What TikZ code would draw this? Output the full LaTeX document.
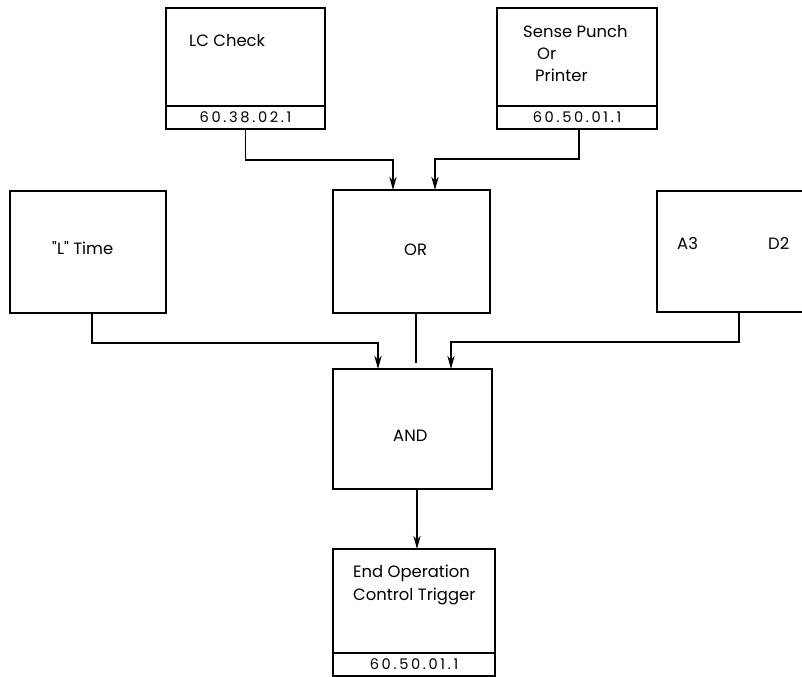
\documentclass[tikz,border=0pt]{standalone}
\usepackage{fontspec}
\setmainfont{Poppins}[Ligatures=TeXOff]
\newfontfamily\numfont[LetterSpace=18]{Poppins}
\usetikzlibrary{positioning,arrows.meta}

\begin{document}
\begin{tikzpicture}[
  x=0.03cm, y=-0.03cm,
  box/.style={draw, line width=1.5pt, inner sep=0pt, outer sep=0pt},
  foot/.style={box, minimum height=23*0.03cm, font=\numfont\fontsize{12.5}{14}\selectfont},
  txt/.style={inner sep=0pt, anchor=base west, font=\fontsize{14}{16}\selectfont},
  arr/.style={-{Stealth[length=4mm, width=2.2mm]}, line width=1.1pt},
  wire/.style={line width=1.1pt}]
  \clip (0,0) rectangle (802,677);
  % top row
  \node[box, minimum width=159*0.03cm, minimum height=98*0.03cm] (lc) at (245.5,57) {};
  \node[foot, minimum width=159*0.03cm, below=0pt of lc] (lcnum) {60.38.02.1};
  \node[txt] (lct) at (189,47) {LC Check};
  \node[box, minimum width=160*0.03cm, minimum height=98*0.03cm] (sp) at (577,57) {};
  \node[foot, minimum width=160*0.03cm, below=0pt of sp] (spnum) {60.50.01.1};
  \node[txt] (spt1) at (523,38) {Sense Punch};
  \node[txt] (spt2) at (537,60) {Or};
  \node[txt] (spt3) at (535,82) {Printer};
  % middle row
  \node[box, minimum width=156*0.03cm, minimum height=122*0.03cm] (lt) at (88,252) {};
  \node[txt] (ltt) at (52,255) {"L" Time};
  \node[box, minimum width=157*0.03cm, minimum height=123*0.03cm] (or) at (411.5,251.5) {};
  \node[txt] (ort) at (404,256) {OR};
  \node[box, minimum width=183*0.03cm, minimum height=121*0.03cm] (ad) at (748.5,251.5) {};
  \node[txt] (adt1) at (677,250) {A3};
  \node[txt] (adt2) at (768,250) {D2};
  % lower boxes
  \node[box, minimum width=159*0.03cm, minimum height=120*0.03cm] (and) at (412.5,429) {};
  \node[txt] (andt) at (393,441) {AND};
  \node[box, minimum width=162*0.03cm, minimum height=104*0.03cm] (eo) at (414,601) {};
  \node[foot, minimum width=162*0.03cm, below=0pt of eo] (eonum) {60.50.01.1};
  \node[txt] (eot1) at (353,577) {End Operation};
  \node[txt] (eot2) at (353,600) {Control Trigger};
  % connectors
  \draw[arr] (lcnum.south) -- ++(0,31) -| ([xshift=-0.555cm]or.north);
  \draw[arr] ([xshift=0.06cm]spnum.south) -- ++(0,30) -| ([xshift=0.705cm]or.north);
  \draw[arr] ([xshift=0.12cm]lt.south) -- ++(0,30) -| ([xshift=-1.035cm]and.north);
  \draw[arr] ([xshift=-0.285cm]ad.south) -- ++(0,30) -| ([xshift=1.155cm]and.north);
  \draw[wire] ([xshift=0.135cm]or.south) -- ++(0,50);
  \draw[arr] ([xshift=0.135cm]and.south) -- ([xshift=0.09cm]eo.north);
\end{tikzpicture}
\end{document}
